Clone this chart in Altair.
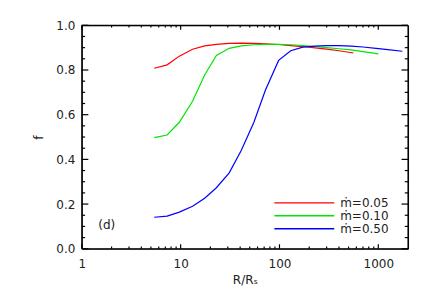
import altair as alt
import pandas as pd

# ---- data ----
series = ["m\u0307=0.05", "m\u0307=0.10", "m\u0307=0.50"]
colors = ["#ff0000", "#00e600", "#0000ff"]

r_005 = [5.4, 7.3, 9.7, 13.2, 17.5, 23, 31, 41, 55, 72, 98, 130, 172, 230, 300, 400, 560]
f_005 = [0.808, 0.823, 0.862, 0.893, 0.908, 0.915, 0.919, 0.920, 0.919, 0.917, 0.914,
         0.909, 0.905, 0.899, 0.893, 0.886, 0.876]

r_010 = [5.4, 7.3, 9.7, 13.2, 17.5, 23, 31, 41, 55, 72, 98, 130, 172, 230, 300, 400, 530, 700, 1000]
f_010 = [0.497, 0.509, 0.566, 0.660, 0.778, 0.865, 0.897, 0.908, 0.913, 0.915, 0.915,
         0.913, 0.909, 0.905, 0.900, 0.895, 0.890, 0.882, 0.872]

r_050 = [5.4, 7.3, 9.7, 13.2, 17.5, 23, 31, 41, 55, 72, 98, 130, 172, 230, 300, 400,
         530, 700, 950, 1250, 1750]
f_050 = [0.141, 0.146, 0.164, 0.190, 0.226, 0.273, 0.340, 0.440, 0.565, 0.709, 0.843,
         0.886, 0.902, 0.907, 0.909, 0.909, 0.907, 0.903, 0.897, 0.891, 0.884]

x_domain = [1, 2000]
y_domain = [0.0, 1.0]
x_major = [1, 10, 100, 1000]
x_minor = [2, 3, 4, 5, 6, 7, 8, 9, 20, 30, 40, 50, 60, 70, 80, 90,
           200, 300, 400, 500, 600, 700, 800, 900]
y_major = [0.0, 0.2, 0.4, 0.6, 0.8, 1.0]
y_minor = [0.05, 0.1, 0.15, 0.25, 0.3, 0.35, 0.45, 0.5, 0.55, 0.65, 0.7, 0.75,
           0.85, 0.9, 0.95]

panel_label = ["(d)"]
panel_x = [1.79]
panel_y = [0.105]

# IDL-style inward ticks: length is a fraction (0.02 major, 0.01 minor) of the plot
TICKLEN = 0.02
decades = 3.30103  # log10(2000/1)

rows = []
for name, rr, ff in zip(series, [r_005, r_010, r_050], [f_005, f_010, f_050]):
    for r, f in zip(rr, ff):
        rows.append({"R": r, "f": f, "series": name})
df = pd.DataFrame(rows)
ann = pd.DataFrame({"R": panel_x, "f": panel_y, "t": panel_label})

seg = []
x0, x1 = x_domain
y0, y1 = y_domain
seg += [dict(x=x0, x2=x1, y=y0, y2=y0), dict(x=x0, x2=x1, y=y1, y2=y1),
        dict(x=x0, x2=x0, y=y0, y2=y1), dict(x=x1, x2=x1, y=y0, y2=y1)]
for vals, frac in [(x_major, TICKLEN), (x_minor, TICKLEN / 2)]:
    for v in vals:
        seg.append(dict(x=v, x2=v, y=y0, y2=y0 + frac))
        seg.append(dict(x=v, x2=v, y=y1, y2=y1 - frac))
for vals, frac in [(y_major, TICKLEN), (y_minor, TICKLEN / 2)]:
    fac = 10 ** (frac * decades)
    for v in vals:
        seg.append(dict(x=x0, x2=x0 * fac, y=v, y2=v))
        seg.append(dict(x=x1, x2=x1 / fac, y=v, y2=v))
segs = pd.DataFrame(seg)

FONT = "DejaVu Sans"
TXT = "#222222"
xs = alt.Scale(type="log", domain=x_domain, nice=False, zero=False)
ys = alt.Scale(domain=y_domain, nice=False, zero=False)

legend = alt.Legend(
    title=None, orient="none", legendX=217, legendY=172, padding=0,
    symbolType="M-6,0H6", symbolSize=100,
    labelFont=FONT, labelFontSize=12, labelColor=TXT, labelOffset=30, rowPadding=1,
)

lines = alt.Chart(df).mark_line(strokeWidth=1.2).encode(
    x=alt.X("R:Q", scale=xs, axis=alt.Axis(
        orient="bottom", values=x_major, format="d", ticks=False, domain=False, grid=False,
        labelFont=FONT, labelFontSize=12, labelColor=TXT, labelPadding=10, labelFlush=False,
        title="R/R\u209b", titleFont=FONT, titleFontSize=12, titleColor=TXT,
        titleFontWeight="normal", titlePadding=5)),
    y=alt.Y("f:Q", scale=ys, axis=alt.Axis(
        orient="left", values=y_major, format=".1f", ticks=False, domain=False, grid=False,
        labelFont=FONT, labelFontSize=12, labelColor=TXT, labelPadding=7, labelFlush=False,
        title="f", titleFont=FONT, titleFontSize=12, titleColor=TXT,
        titleFontWeight="normal", titlePadding=10)),
    color=alt.Color("series:N", scale=alt.Scale(domain=series, range=colors), legend=legend),
)

frame = alt.Chart(segs).mark_rule(stroke="black", strokeWidth=1.2, opacity=1).encode(
    x=alt.X("x:Q", scale=xs, axis=None),
    x2="x2:Q",
    y=alt.Y("y:Q", scale=ys, axis=None),
    y2="y2:Q",
)

label = alt.Chart(ann).mark_text(font=FONT, fontSize=12, color=TXT, align="center",
                                 baseline="middle").encode(
    x=alt.X("R:Q", scale=xs, axis=None),
    y=alt.Y("f:Q", scale=ys, axis=None),
    text="t:N",
)

chart = alt.layer(frame, lines, label).resolve_axis(
    x="independent", y="independent"
).properties(
    width=327, height=224,
    autosize=alt.AutoSizeParams(type="none"),
    padding={"left": 74, "top": 17, "right": 20, "bottom": 45},
).configure_view(stroke="black")

chart.save("out.html", embed_options={"renderer": "svg", "actions": False})
